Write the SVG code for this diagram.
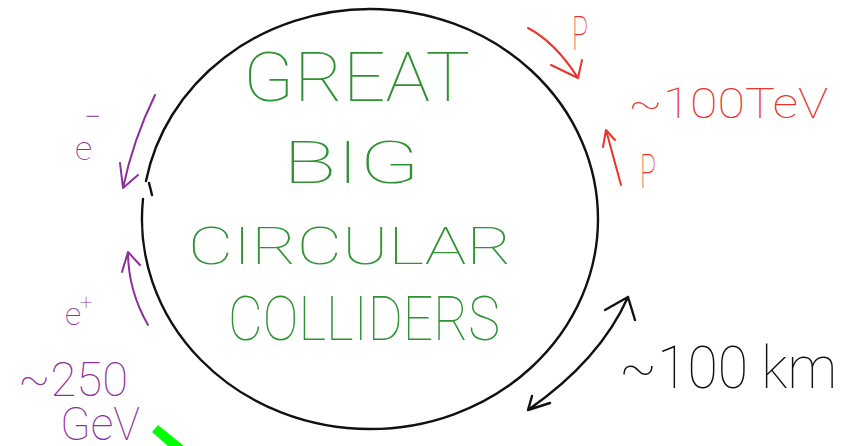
<svg xmlns="http://www.w3.org/2000/svg" width="846" height="446" viewBox="0 0 846 446">
<style>
.hand{font-family:Roboto,"Open Sans","Liberation Sans",sans-serif;font-weight:100}
.green{fill:#2f9233}
.purple{fill:#8d2f9c}
.red{fill:#e8342c}
.black{fill:#111}
.ink{fill:none;stroke-linecap:round;stroke-linejoin:round}
.pk{stroke:#8d2f9c;stroke-width:2}
.rk{stroke:#e8342c;stroke-width:2}
.bk{stroke:#111;stroke-width:2.4}
</style>
<rect width="846" height="446" fill="#fff"/>
<g id="ring">
<path class="ink bk" d="M143,199 A228,210 0 0 0 370,429 A228,210 0 0 0 598,219 A228,210 0 0 0 370,9 A228,210 0 0 0 146,181"/>
<path class="ink bk" stroke-width="1.8" d="M149,183 L152,195"/>
</g>
<g id="title">
<text class="hand green" x="243" y="101" font-size="68" textLength="227" lengthAdjust="spacingAndGlyphs">GREAT</text>
<text class="hand green" x="283" y="183" font-size="60" textLength="137" lengthAdjust="spacingAndGlyphs">BIG</text>
<text class="hand green" x="188" y="264" font-size="52" textLength="324" lengthAdjust="spacingAndGlyphs">CIRCULAR</text>
<text class="hand green" x="228" y="340" font-size="62" textLength="272" lengthAdjust="spacingAndGlyphs">COLLIDERS</text>
</g>
<g id="electron">
<text class="hand purple" x="75" y="160" font-size="34">e<tspan x="84" y="127" font-size="30">−</tspan></text>
</g>
<g id="positron">
<text class="hand purple" x="65" y="325" font-size="32">e<tspan x="80" y="310" font-size="22">+</tspan></text>
</g>
<g id="lepton-energy">
<text class="hand purple" x="18" y="396" font-size="48" textLength="110" lengthAdjust="spacingAndGlyphs">~250</text>
<text class="hand purple" x="60" y="440" font-size="46" textLength="80" lengthAdjust="spacingAndGlyphs">GeV</text>
</g>
<g id="proton-top">
<text class="hand red" x="572" y="50" font-size="48" textLength="16" lengthAdjust="spacingAndGlyphs">P</text>
</g>
<g id="proton-bottom">
<text class="hand red" x="640" y="188" font-size="48" textLength="16" lengthAdjust="spacingAndGlyphs">P</text>
</g>
<g id="hadron-energy">
<text class="hand red" x="628" y="118" font-size="42" textLength="200" lengthAdjust="spacingAndGlyphs">~100TeV</text>
</g>
<g id="size">
<text class="hand black" x="619" y="388" font-size="60" textLength="218" lengthAdjust="spacingAndGlyphs">~100 km</text>
</g>
<g id="connectors">
<path class="ink pk" d="M155,95 Q133,140 123,188 M120,163 L123,188 L138,175"/>
<path class="ink pk" d="M148,325 Q128,290 128,252 M122,272 L128,252 L140,265"/>
<path class="ink rk" d="M528,28 Q555,42 578,78 M551,65 L578,78 L582,60"/>
<path class="ink rk" d="M621,185 L606,130 M603,147 L606,130 L615,140"/>
<path class="ink bk" d="M628,297 Q600,360 528,410 M605,310 L628,297 L635,320 M532,396 L528,410 L550,403"/>
</g>
<polygon points="152,432 158,425 184,446 168,446" fill="#00ff00"/>
</svg>
